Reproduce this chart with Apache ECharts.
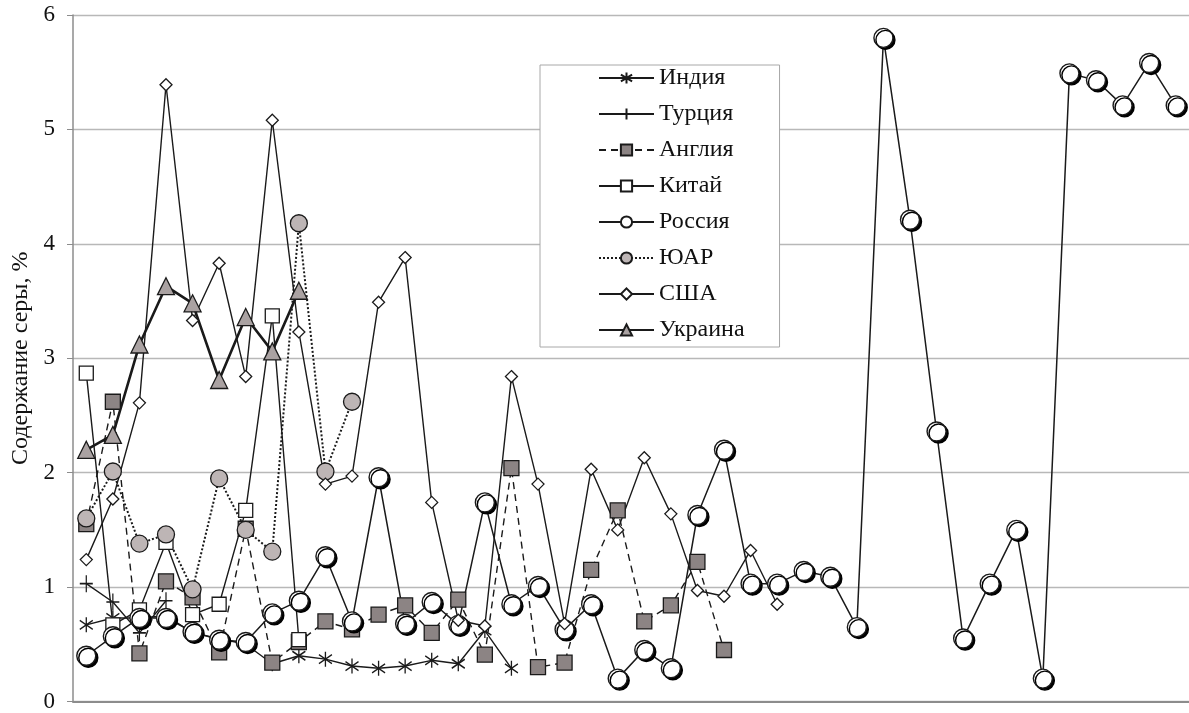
<!DOCTYPE html>
<html>
<head>
<meta charset="utf-8">
<script src="https://cdn.jsdelivr.net/npm/echarts@6/dist/echarts.min.js"></script>
<style>
  html, body { margin: 0; padding: 0; background: #fff; }
  #chart { width: 1189px; height: 713px; }
</style>
</head>
<body>
<div id="chart"></div>
<script>
// samples along the x axis (no labels shown in the original)
const categories = Array.from({ length: 42 }, (_, i) => String(i + 1));
const yTicks = [0, 1, 2, 3, 4, 5, 6];

const india   = [0.67, 0.73, 0.73, 0.75, 0.60, 0.55, 0.50, 0.33, 0.40, 0.37, 0.31, 0.29, 0.31, 0.36, 0.33, 0.62, 0.29];
const turkey  = [1.03, 0.87, 0.60, 0.88];
const england = [1.55, 2.62, 0.42, 1.05, 0.91, 0.43, 1.51, 0.34, 0.52, 0.70, 0.63, 0.76, 0.84, 0.60, 0.89, 0.41, 2.04, 0.30, 0.34, 1.15, 1.67, 0.70, 0.84, 1.22, 0.45];
const china   = [2.87, 0.67, 0.80, 1.39, 0.76, 0.85, 1.67, 3.37, 0.54];
const russia  = [0.40, 0.57, 0.73, 0.73, 0.61, 0.54, 0.52, 0.77, 0.88, 1.27, 0.70, 1.96, 0.68, 0.87, 0.67, 1.74, 0.85, 1.01, 0.63, 0.85,
                 0.20, 0.45, 0.29, 1.63, 2.20, 1.03, 1.03, 1.14, 1.09, 0.65, 5.80, 4.21, 2.36, 0.55, 1.03, 1.50, 0.20, 5.49, 5.43, 5.21,
                 5.58, 5.21];
const rsa     = [1.60, 2.01, 1.38, 1.46, 0.98, 1.95, 1.50, 1.31, 4.18, 2.01, 2.62];
const usa     = [1.24, 1.77, 2.61, 5.39, 3.33, 3.83, 2.84, 5.08, 3.23, 1.90, 1.97, 3.49, 3.88, 1.74, 0.71, 0.66, 2.84, 1.90, 0.68, 2.03,
                 1.50, 2.13, 1.64, 0.97, 0.92, 1.32, 0.85];
const ukraine = [2.20, 2.33, 3.12, 3.63, 3.48, 2.81, 3.36, 3.06, 3.59];

const serif = '"Liberation Serif", "Times New Roman", "DejaVu Serif", serif';
const ink = '#1a1a1a';
const asterisk = 'path://M10,0 L10,20 M2,4 L18,16 M2,16 L18,4';
const plus = 'path://M10,0 L10,20 M3,10 L17,10';

function mk(name, data, symbol, size, fill, line, extra) {
  return Object.assign({
    name, type: 'line', data, symbol, symbolSize: size,
    showAllSymbol: true, connectNulls: false, animation: false,
    lineStyle: Object.assign({ color: ink, width: 1.4 }, line || {}),
    itemStyle: { color: fill, borderColor: ink, borderWidth: 1.3 }
  }, extra || {});
}

const chart = echarts.init(document.getElementById('chart'));
chart.setOption({
  backgroundColor: '#fff',
  animation: false,
  grid: { left: 73, right: 0, top: 15, bottom: 8 },
  legend: {
    orient: 'vertical', left: 540, top: 65,
    padding: [1, 35, 5, 58],
    itemWidth: 55, itemHeight: 14, itemGap: 12,
    borderColor: '#a8a8a8', borderWidth: 1, backgroundColor: '#fff',
    textStyle: { fontFamily: serif, fontSize: 24, color: '#111' },
    data: ['Индия', 'Турция', 'Англия', 'Китай', 'Россия', 'ЮАР', 'США', 'Украина']
  },
  xAxis: {
    type: 'category', data: categories, boundaryGap: true,
    axisLine: { lineStyle: { color: '#8c8c8c', width: 2 } },
    axisTick: { show: false }, axisLabel: { show: false }
  },
  yAxis: {
    type: 'value', min: yTicks[0], max: yTicks[yTicks.length - 1], interval: 1,
    name: 'Содержание серы, %', nameLocation: 'middle', nameGap: 40,
    nameTextStyle: { fontFamily: serif, fontSize: 24, color: '#111' },
    axisLine: { show: true, lineStyle: { color: '#8c8c8c', width: 1.5 } },
    axisTick: { show: true, length: 6, lineStyle: { color: '#8c8c8c' } },
    axisLabel: { fontFamily: serif, fontSize: 23, color: '#111', margin: 18 },
    splitLine: { lineStyle: { color: '#b8b8b8', width: 1.3 } }
  },
  series: [
    mk('Индия', india, asterisk, [13, 15], 'none', null,
       { itemStyle: { color: 'none', borderColor: ink, borderWidth: 1.4 } }),
    mk('Турция', turkey, plus, [13, 17], 'none', null,
       { itemStyle: { color: 'none', borderColor: ink, borderWidth: 1.4 } }),
    mk('Англия', england, 'rect', 15, '#8c8484', { type: [7, 5] }),
    mk('Китай', china, 'rect', 14, '#fff', null),
    mk('Россия', russia, 'circle', 19, '#fff', { width: 1.5 },
       { itemStyle: { color: '#fff', borderColor: ink, borderWidth: 1.4,
                      shadowColor: '#000', shadowBlur: 0, shadowOffsetX: 2, shadowOffsetY: 2 } }),
    mk('ЮАР', rsa, 'circle', 17, '#bdb5b5', { type: 'dotted', width: 2 }),
    mk('США', usa, 'diamond', 12, '#fff', null),
    mk('Украина', ukraine, 'triangle', 17, '#aaa2a2', { width: 2.6 })
  ]
});
</script>
</body>
</html>
